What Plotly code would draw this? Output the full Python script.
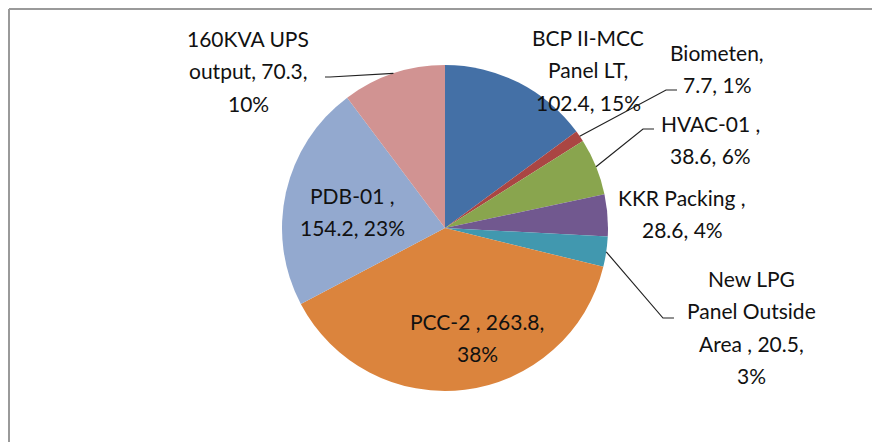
import math
import plotly.graph_objects as go

# feeder loads (kVA) and the share shown on the chart
names = ["BCP II-MCC Panel LT", "Biometen", "HVAC-01", "KKR Packing",
         "New LPG Panel Outside Area", "PCC-2", "PDB-01", "160KVA UPS output"]
values = [102.4, 7.7, 38.6, 28.6, 20.5, 263.8, 154.2, 70.3]
percents = ["15%", "1%", "6%", "4%", "3%", "38%", "23%", "10%"]
colors = ["#4470A6", "#AA4643", "#89A54E", "#71588F",
          "#4198AF", "#DB843D", "#93A9CF", "#D19392"]

# how each data label is broken over lines, as in the original
label_lines = [
    ["BCP II-MCC", "Panel LT,", "{v}, {p}"],
    ["Biometen,", "{v}, {p}"],
    ["HVAC-01 ,", "{v}, {p}"],
    ["KKR Packing ,", "{v}, {p}"],
    ["New LPG", "Panel Outside", "Area , {v},", "{p}"],
    ["PCC-2 , {v},", "{p}"],
    ["PDB-01 ,", "{v}, {p}"],
    ["160KVA UPS", "output, {v},", "{p}"],
]

W, H = 872, 442
cx, cy, r = 445, 228, 163
line_h = 32.5
# label centre (first line) and optional leader elbow/end, in pixels
label_pos = [(588, 37), (717, 52), (710, 123), (682, 197),
             (751, 278), (477, 321), (352, 195), (248, 38)]
leaders = {1: [(677, 90), (666, 90)], 2: [(654, 129), (643, 129)],
           4: [(674, 318), (663, 318)], 7: [(325, 77), (330, 77)]}


def px(x, y):
    return x / W, 1 - y / H


fig = go.Figure(go.Pie(
    labels=names, values=values, sort=False, direction="clockwise", rotation=0,
    marker=dict(colors=colors, line=dict(width=0)),
    textinfo="none", hoverinfo="label+value+percent",
    domain=dict(x=[(cx - r) / W, (cx + r) / W], y=[1 - (cy + r) / H, 1 - (cy - r) / H]),
))

annotations = []
for i, lines in enumerate(label_lines):
    lx, ly = label_pos[i]
    for j, t in enumerate(lines):
        x, y = px(lx, ly + j * line_h)
        annotations.append(dict(
            x=x, y=y, xref="paper", yref="paper", showarrow=False,
            text=t.format(v=values[i], p=percents[i]),
            xanchor="center", yanchor="middle",
            font=dict(family="Lato", size=21, color="#111111")))

shapes = []
total = sum(values)
cum = 0
for i, v in enumerate(values):
    mid = (cum + v / 2) / total * 2 * math.pi
    cum += v
    if i not in leaders:
        continue
    ex, ey = cx + r * math.sin(mid), cy - r * math.cos(mid)
    pts = leaders[i] + [(ex, ey)]
    path = "M " + " L ".join("%.4f,%.4f" % px(a, b) for a, b in pts)
    shapes.append(dict(type="path", path=path, xref="paper", yref="paper",
                       line=dict(color="#222222", width=1.2)))

# chart frame (only top and left edges show in the crop)
shapes.append(dict(type="line", xref="paper", yref="paper",
                   x0=9 / W, y0=-0.1, x1=9 / W, y1=1 - 9 / H,
                   line=dict(color="#9a9a9a", width=2)))
shapes.append(dict(type="line", xref="paper", yref="paper",
                   x0=9 / W, y0=1 - 9 / H, x1=1.1, y1=1 - 9 / H,
                   line=dict(color="#9a9a9a", width=2)))

fig.update_layout(
    width=W, height=H, margin=dict(l=0, r=0, t=0, b=0),
    paper_bgcolor="white", plot_bgcolor="white", showlegend=False,
    annotations=annotations, shapes=shapes,
)
fig.write_html("out.html", config={"displayModeBar": False},
               post_script="document.body.style.margin='0';document.body.style.overflow='hidden';")
